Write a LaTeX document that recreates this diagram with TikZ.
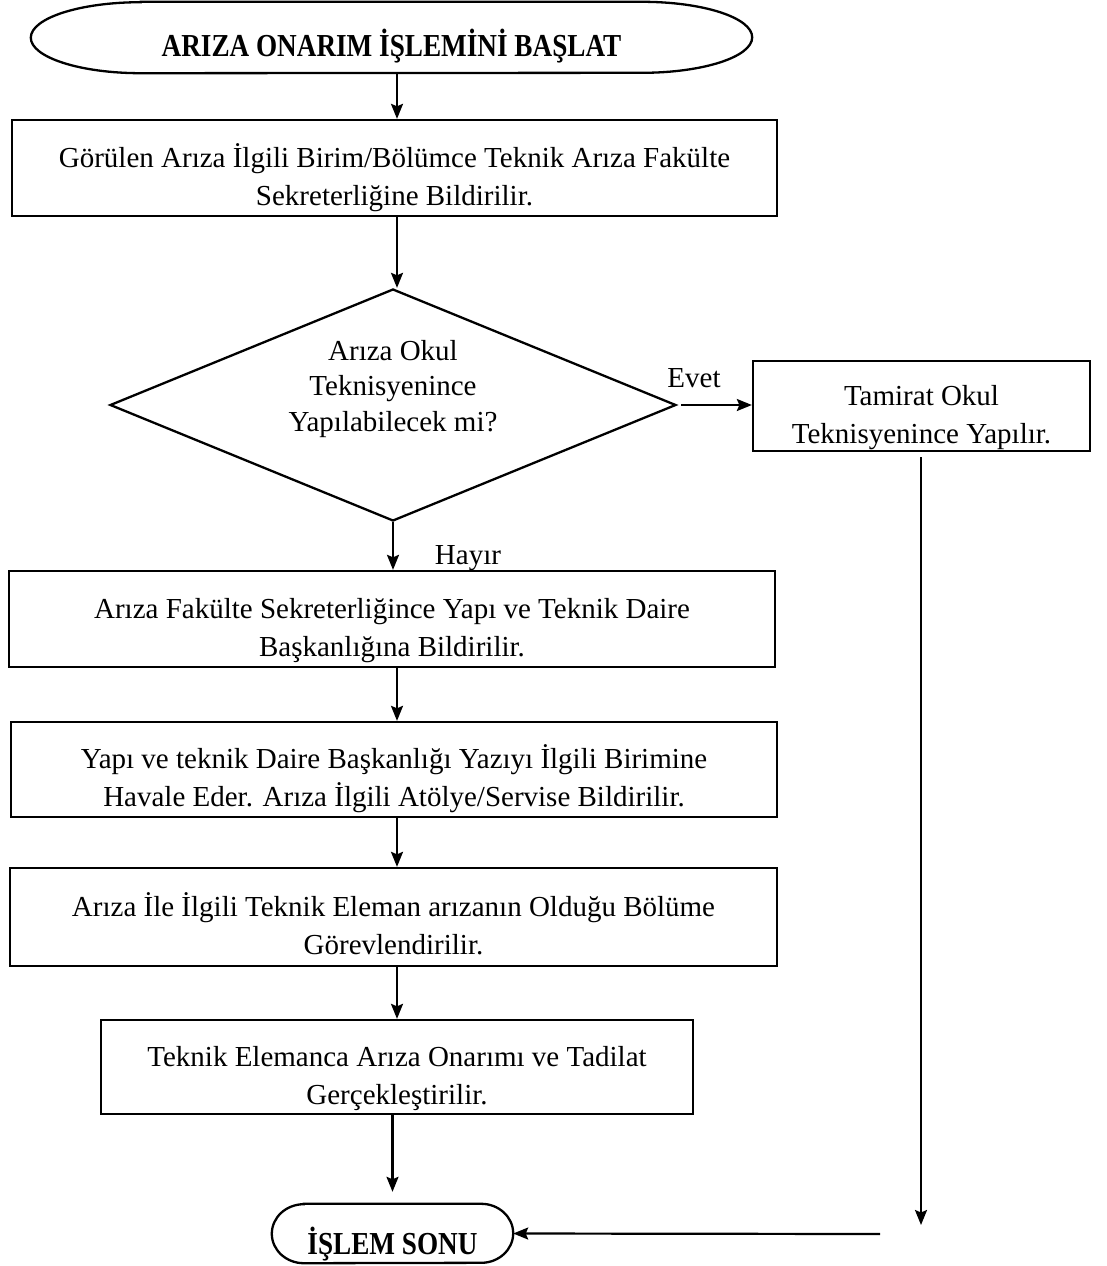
\documentclass[tikz,border=0pt]{standalone}
\usepackage{fontspec}
\setmainfont{Liberation Serif}
\usetikzlibrary{arrows.meta,shapes.geometric}
\newcommand\toppad{\rule{0pt}{44pt}}
\newcommand\botpad{\rule[-8pt]{0pt}{8pt}}
\begin{document}
\begin{tikzpicture}[x=1pt,y=-1pt,
  every node/.style={font=\fontsize{29}{38}\selectfont},
  box/.style={draw, line width=2.3pt, rectangle, align=center, inner sep=0pt},
  termshape/.style={draw=none, inner sep=0pt},
  title/.style={font=\fontsize{32}{36}\selectfont\bfseries},
  link/.style={line width=2.2pt, -{Stealth[length=15pt,width=12pt,inset=2.5pt]}},
  plain/.style={line width=2.3pt},
  lbl/.style={inner sep=0pt}
]
\useasboundingbox (0,0) rectangle (1106,1266);

% start terminal
\node[termshape, minimum width=721pt, minimum height=71pt] (start) at (391.5,37.5) {};
\draw[plain] ([xshift=110pt]start.north west) -- ([xshift=-110pt]start.north east)
  arc[start angle=90, end angle=-90, x radius=110pt, y radius=35.5pt]
  -- ([xshift=110pt]start.south west)
  arc[start angle=270, end angle=90, x radius=110pt, y radius=35.5pt] -- cycle;
\node[title, lbl] (starttext) at (391.5,46) {\scalebox{0.85}[1]{ARIZA ONARIM İŞLEMİNİ BAŞLAT}};

\node[box, minimum width=765pt, minimum height=96pt] (box1) at (394.5,168)
  {\toppad Görülen Arıza İlgili Birim/Bölümce Teknik Arıza Fakülte\\Sekreterliğine Bildirilir.\botpad};

\node[draw, line width=2.3pt, diamond, inner sep=0pt, minimum width=566pt, minimum height=232pt] (dec) at (393,405) {};
\node[lbl, align=center, font=\fontsize{29}{35.5}\selectfont] (dectext) at (393,389)
  {Arıza Okul\\Teknisyenince\\Yapılabilecek mi?};

\node[box, minimum width=337pt, minimum height=88pt] (tam) at (921.5,406)
  {\toppad Tamirat Okul\\Teknisyenince Yapılır.\botpad};

\node[box, minimum width=766pt, minimum height=96pt] (box2) at (392,619)
  {\toppad Arıza Fakülte Sekreterliğince Yapı ve Teknik Daire\\Başkanlığına Bildirilir.\botpad};

\node[box, minimum width=766pt, minimum height=95pt] (box3) at (394,769.5)
  {\toppad Yapı ve teknik Daire Başkanlığı Yazıyı İlgili Birimine\\Havale Eder. Arıza İlgili Atölye/Servise Bildirilir.\botpad};

\node[box, minimum width=767pt, minimum height=98pt] (box4) at (393.5,917)
  {\toppad Arıza İle İlgili Teknik Eleman arızanın Olduğu Bölüme\\Görevlendirilir.\botpad};

\node[box, minimum width=592pt, minimum height=94pt] (box5) at (397,1067)
  {\toppad Teknik Elemanca Arıza Onarımı ve Tadilat\\Gerçekleştirilir.\botpad};

% end terminal
\node[termshape, minimum width=241pt, minimum height=59pt] (end) at (392.5,1233.5) {};
\draw[plain] ([xshift=32pt]end.north west) -- ([xshift=-32pt]end.north east)
  arc[start angle=90, end angle=-90, x radius=32pt, y radius=29.5pt]
  -- ([xshift=32pt]end.south west)
  arc[start angle=270, end angle=90, x radius=32pt, y radius=29.5pt] -- cycle;
\node[title, lbl] (endtext) at (392.5,1244) {\scalebox{0.85}[1]{İŞLEM SONU}};

% labels
\node[lbl] (evet) at (694,378) {Evet};
\node[lbl] (hayir) at (468,558) {Hayır};

% connectors
\coordinate (c0) at (397,73);
\draw[link] (c0) -- (c0 |- box1.north);
\coordinate (c1) at (397,216);
\draw[link] (c1) -- (c1 |- dec.north);
\draw[link] ([xshift=4pt]dec.east) -- (tam.west |- dec.east);
\draw[link] (dec.south) -- (dec.south |- box2.north);
\coordinate (c2) at (397,667);
\draw[link] (c2) -- (c2 |- box3.north);
\coordinate (c3) at (397,817);
\draw[link] (c3) -- (c3 |- box4.north);
\coordinate (c4) at (397,966);
\draw[link] (c4) -- (c4 |- box5.north);
\draw[link] (box5.south -| end.north) -- ([yshift=12pt]end.north);
\coordinate (rtop) at (921,457);
\coordinate (rend) at (921,1225);
\draw[link] (rtop) -- (rend);
\coordinate (hstart) at (880,1234);
\draw[link] (hstart) -- (end.east);
\end{tikzpicture}
\end{document}
